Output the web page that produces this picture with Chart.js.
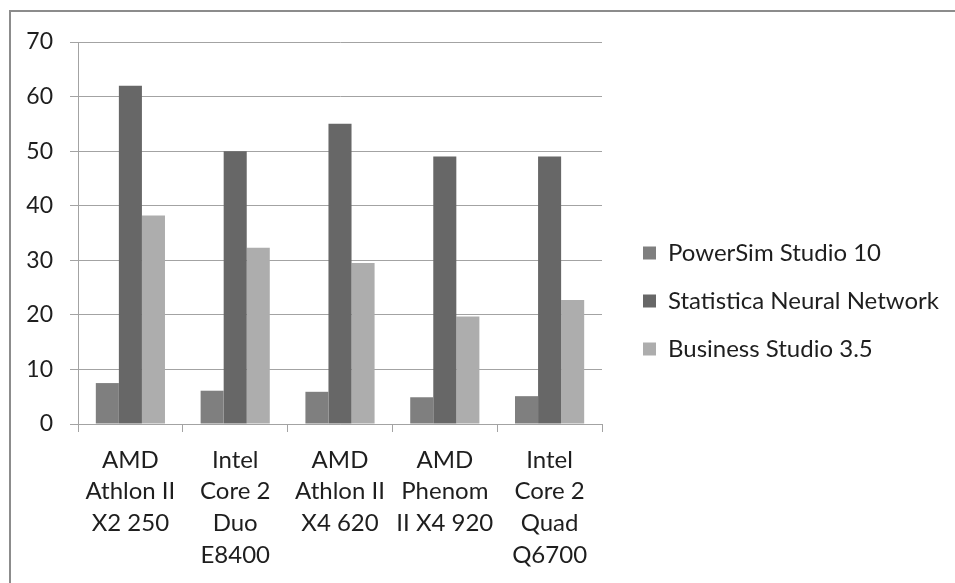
<!DOCTYPE html>
<html>
<head>
<meta charset="utf-8">
<script src="https://cdn.jsdelivr.net/npm/chart.js@4/dist/chart.umd.min.js"></script>
<style>
  html, body { margin: 0; padding: 0; background: #fff; }
  #wrap { position: relative; width: 955px; height: 583px; overflow: hidden; }
  #frame { position: absolute; left: 9px; top: 10px; width: 980px; height: 600px;
           border-left: 2px solid #8c8c8c; border-top: 2px solid #8c8c8c; pointer-events: none; }
</style>
</head>
<body>
<div id="wrap">
  <canvas id="chart" width="955" height="583"></canvas>
  <div id="frame"></div>
</div>
<script>
const categories = [
  ['AMD', 'Athlon II', 'X2 250'],
  ['Intel', 'Core 2', 'Duo', 'E8400'],
  ['AMD', 'Athlon II', 'X4 620'],
  ['AMD', 'Phenom', 'II X4 920'],
  ['Intel', 'Core 2', 'Quad', 'Q6700'],
];
const powerSim = [7.5, 6.1, 5.9, 4.9, 5.1];
const statistica = [62, 50, 55, 49, 49];
const businessStudio = [38.2, 32.3, 29.5, 19.7, 22.7];
const seriesNames = ['PowerSim Studio 10', 'Statistica Neural Network', 'Business Studio 3.5'];
const yTicks = [0, 10, 20, 30, 40, 50, 60, 70];

const barColors = ['#7f7f7f', '#676767', '#adadad'];
const fontFamily = 'Lato, "Open Sans", sans-serif';
const textColor = '#1e1e1e';
const gridColor = '#a3a3a3';

// legend sits in a fixed-width box to the right of the plot
const legendBox = {
  id: 'legendBox',
  afterInit(chart) {
    const legend = chart.legend;
    const fit = legend.fit;
    legend.fit = function () {
      fit.call(this);
      this.width = 353;
    };
  },
  afterLayout(chart) {
    chart.legend.left += 17;
    chart.legend.top -= 23;
  },
};

function draw() {
  const ctx = document.getElementById('chart').getContext('2d');
  new Chart(ctx, {
    type: 'bar',
    data: {
      labels: categories,
      datasets: [powerSim, statistica, businessStudio].map((values, i) => ({
        label: seriesNames[i],
        data: values,
        backgroundColor: barColors[i],
        categoryPercentage: 0.66,
        barPercentage: 1.0,
      })),
    },
    plugins: [legendBox],
    options: {
      responsive: false,
      animation: false,
      layout: { padding: { top: 42, right: 0, left: 0, bottom: 0 } },
      plugins: {
        title: { display: false },
        tooltip: { enabled: false },
        legend: {
          display: true,
          position: 'right',
          labels: {
            color: textColor,
            font: { family: fontFamily, size: 24 },
            boxWidth: 13,
            boxHeight: 13,
            padding: 24,
          },
        },
      },
      scales: {
        x: {
          afterFit: (scale) => { scale.height = 159; },
          grid: {
            display: true,
            drawOnChartArea: false,
            drawTicks: true,
            tickLength: 8,
            color: gridColor,
          },
          border: { display: true, color: gridColor, width: 1 },
          ticks: {
            color: textColor,
            font: { family: fontFamily, size: 24, lineHeight: 1.32 },
            maxRotation: 0,
            autoSkip: false,
            padding: 12,
          },
        },
        y: {
          min: 0,
          max: 70,
          afterFit: (scale) => { scale.width = 78; },
          afterBuildTicks: (scale) => {
            scale.ticks = yTicks.map((v) => ({ value: v }));
          },
          grid: {
            color: gridColor,
            tickLength: 8,
          },
          border: { display: true, color: gridColor, width: 1 },
          ticks: {
            color: textColor,
            font: { family: fontFamily, size: 23 },
            padding: 17,
          },
        },
      },
    },
  });
}

document.fonts.load('24px Lato').then(draw, draw);
</script>
</body>
</html>
